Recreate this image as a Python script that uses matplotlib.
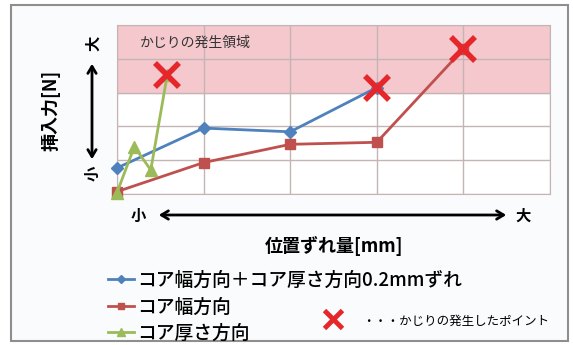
import matplotlib.pyplot as plt
from matplotlib.patches import Rectangle, FancyArrowPatch
from matplotlib.lines import Line2D

plt.rcParams['font.family'] = ['Noto Sans CJK JP', 'DejaVu Sans']

# data (grid units)
blue_x = [0, 1, 2, 3]
blue_y = [0.77, 1.95, 1.84, 3.15]
red_x = [0, 1, 2, 3, 4]
red_y = [0.07, 0.93, 1.47, 1.53, 4.29]
green_x = [0, 0.2, 0.39, 0.58]
green_y = [0.04, 1.4, 0.71, 3.52]
fail_x = [0.58, 3, 4]
fail_y = [3.52, 3.15, 4.29]

labels = ['コア幅方向＋コア厚さ方向0.2mmずれ', 'コア幅方向', 'コア厚さ方向']
zone_label = 'かじりの発生領域'
fail_label = '・・・かじりの発生したポイント'

c_blue = '#4F81BD'
c_red = '#C0504D'
c_green = '#9BBB59'
c_x = '#E5262B'

W, H = 573, 345
fig = plt.figure(figsize=(W / 100, H / 100), dpi=100)
fig.patch.set_facecolor('white')

# outer frame
fig.patches.append(Rectangle((11 / W, 1 - 341 / H), 557 / W, 336 / H,
                             transform=fig.transFigure, facecolor='#FAFBFC',
                             edgecolor='#8E8E8E', linewidth=1.5, zorder=-5))

ax = fig.add_axes([117 / W, 1 - 194 / H, 433 / W, 169 / H])
ax.set_zorder(2)
ax.set_xlim(0, 5)
ax.set_ylim(0, 5)
ax.set_facecolor('white')
ax.axhspan(3, 5, color='#F4C8CD', zorder=0)
for v in range(6):
    ax.axvline(v, color='#C4B4B4', lw=1, zorder=1)
    ax.axhline(v, color='#C4B4B4', lw=1, zorder=1)
for s in ax.spines.values():
    s.set_color('#C4B4B4')
ax.set_xticks([])
ax.set_yticks([])

ax.text(0.27, 4.47, zone_label, fontsize=10, color='#333333', va='center')

l1, = ax.plot(blue_x, blue_y, color=c_blue, lw=2, marker='D', ms=6, zorder=3)
l2, = ax.plot(red_x, red_y, color=c_red, lw=2, marker='s', ms=7, zorder=3)
l3, = ax.plot(green_x, green_y, color=c_green, lw=2, marker='^', ms=8, zorder=4)
ax.plot(fail_x, fail_y, ls='none', marker='x', ms=17, mew=4, color=c_x, zorder=5)
for l in (l1, l2, l3):
    l.set_clip_on(False)

# axis labels and arrows
fig.text(51 / W, 1 - 110 / H, '挿入力[N]', rotation=90, fontsize=13,
         fontweight='bold', ha='center', va='center')
fig.text(93 / W, 1 - 43 / H, '大', rotation=90, fontsize=11, fontweight='bold',
         ha='center', va='center')
fig.text(93 / W, 1 - 173 / H, '小', rotation=90, fontsize=11, fontweight='bold',
         ha='center', va='center')
fig.patches.append(FancyArrowPatch(
    (92 / W, 1 - 162 / H), (92 / W, 1 - 61 / H), transform=fig.transFigure,
    arrowstyle='<->,head_length=5,head_width=3', color='black', lw=2))

fig.text(138 / W, 1 - 216 / H, '小', fontsize=11, fontweight='bold',
         ha='center', va='center')
fig.text(523 / W, 1 - 216 / H, '大', fontsize=11, fontweight='bold',
         ha='center', va='center')
fig.patches.append(FancyArrowPatch(
    (156 / W, 1 - 215 / H), (509 / W, 1 - 215 / H), transform=fig.transFigure,
    arrowstyle='<->,head_length=5,head_width=3', color='black', lw=2))

fig.text(334 / W, 1 - 246 / H, '位置ずれ量[mm]', fontsize=13, fontweight='bold',
         ha='center', va='center')

# legend
h1 = Line2D([], [], color=c_blue, lw=2, marker='D', ms=4)
h2 = Line2D([], [], color=c_red, lw=2, marker='s', ms=5)
h3 = Line2D([], [], color=c_green, lw=2, marker='^', ms=6)
fig.legend([h1, h2, h3], labels, loc='upper left',
           bbox_to_anchor=(108 / W, 1 - 271 / H), frameon=False,
           handlelength=1.4, handletextpad=0.15, labelspacing=0.4,
           borderaxespad=0, borderpad=0,
           prop={'size': 13.5, 'weight': 'medium'})

fig.add_artist(Line2D([333 / W], [1 - 319 / H], transform=fig.transFigure,
                      marker='x', ms=13, mew=3.5, color=c_x, ls='none'))
fig.text(362 / W, 1 - 321 / H, fail_label, fontsize=9, va='center')

fig.savefig('out.png', dpi=100)
